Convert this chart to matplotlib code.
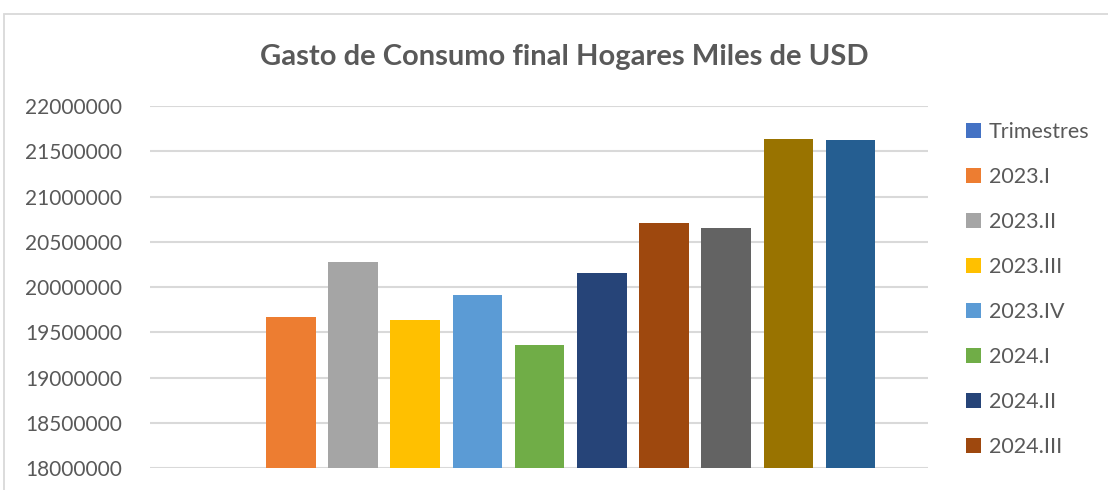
import matplotlib
matplotlib.use("Agg")
import matplotlib.pyplot as plt
from matplotlib.patches import Rectangle
import numpy as np

categories = ["Trimestres", "2023.I", "2023.II", "2023.III", "2023.IV", "2024.I",
              "2024.II", "2024.III", "2024.IV", "2025.I", "2025.II"]
values = [np.nan, 19668000, 20276000, 19635000, 19912000, 19359000,
          20155000, 20707000, 20652000, 21635000, 21624000]
colors = ["#4472C4", "#ED7D31", "#A5A5A5", "#FFC000", "#5B9BD5", "#70AD47",
          "#264478", "#9E480E", "#636363", "#997300", "#255E91"]
yticks = [18000000, 18500000, 19000000, 19500000, 20000000, 20500000,
          21000000, 21500000, 22000000]
title = "Gasto de Consumo final Hogares Miles de USD"
legend_shown = 8  # the legend in the original only fits the first 8 entries

plt.rcParams['font.family'] = ['Lato', 'DejaVu Sans']
txt = "#595959"
W, H = 1108, 490
fig = plt.figure(figsize=(W / 100, H / 100), dpi=100)

# chart frame
fig.patches.append(Rectangle((4 / W, -0.1), 1.2, (H - 14) / H + 0.1, transform=fig.transFigure,
                             fill=False, edgecolor="#D9D9D9", linewidth=1.3))

ax = fig.add_axes([150 / W, 1 - 468.3 / H, (928 - 150) / W, (468.3 - 106) / H])
x = np.arange(len(categories))
ax.bar(x, [0 if np.isnan(v) else v for v in values], width=0.8, color=colors, zorder=3)
ax.set_ylim(18000000, 22000000)
ax.set_xlim(-1.265, 11.245)
ax.set_yticks(yticks)
ax.set_yticklabels([str(t) for t in yticks])
ax.set_xticks([])
ax.grid(axis='y', color="#D9D9D9", linewidth=1.5, zorder=0)
for s in ax.spines.values():
    s.set_visible(False)
ax.tick_params(axis='y', length=0, pad=20, labelsize=15, labelcolor=txt)

fig.text(564 / W, 1 - 57 / H, title, ha='center', va='center', fontsize=21,
         fontweight='bold', color=txt)

handles = [Rectangle((0, 0), 1, 1, facecolor=c) for c in colors]
leg = fig.legend(handles[:legend_shown], categories[:legend_shown], loc='upper left',
                 bbox_to_anchor=(966 / W, 1 - 122 / H),
                 frameon=False, fontsize=15.5, handlelength=0.7, handleheight=0.7,
                 handletextpad=0.35, labelspacing=1.16, borderpad=0, borderaxespad=0)
for t in leg.get_texts():
    t.set_color(txt)

fig.savefig("out.png", dpi=100)
